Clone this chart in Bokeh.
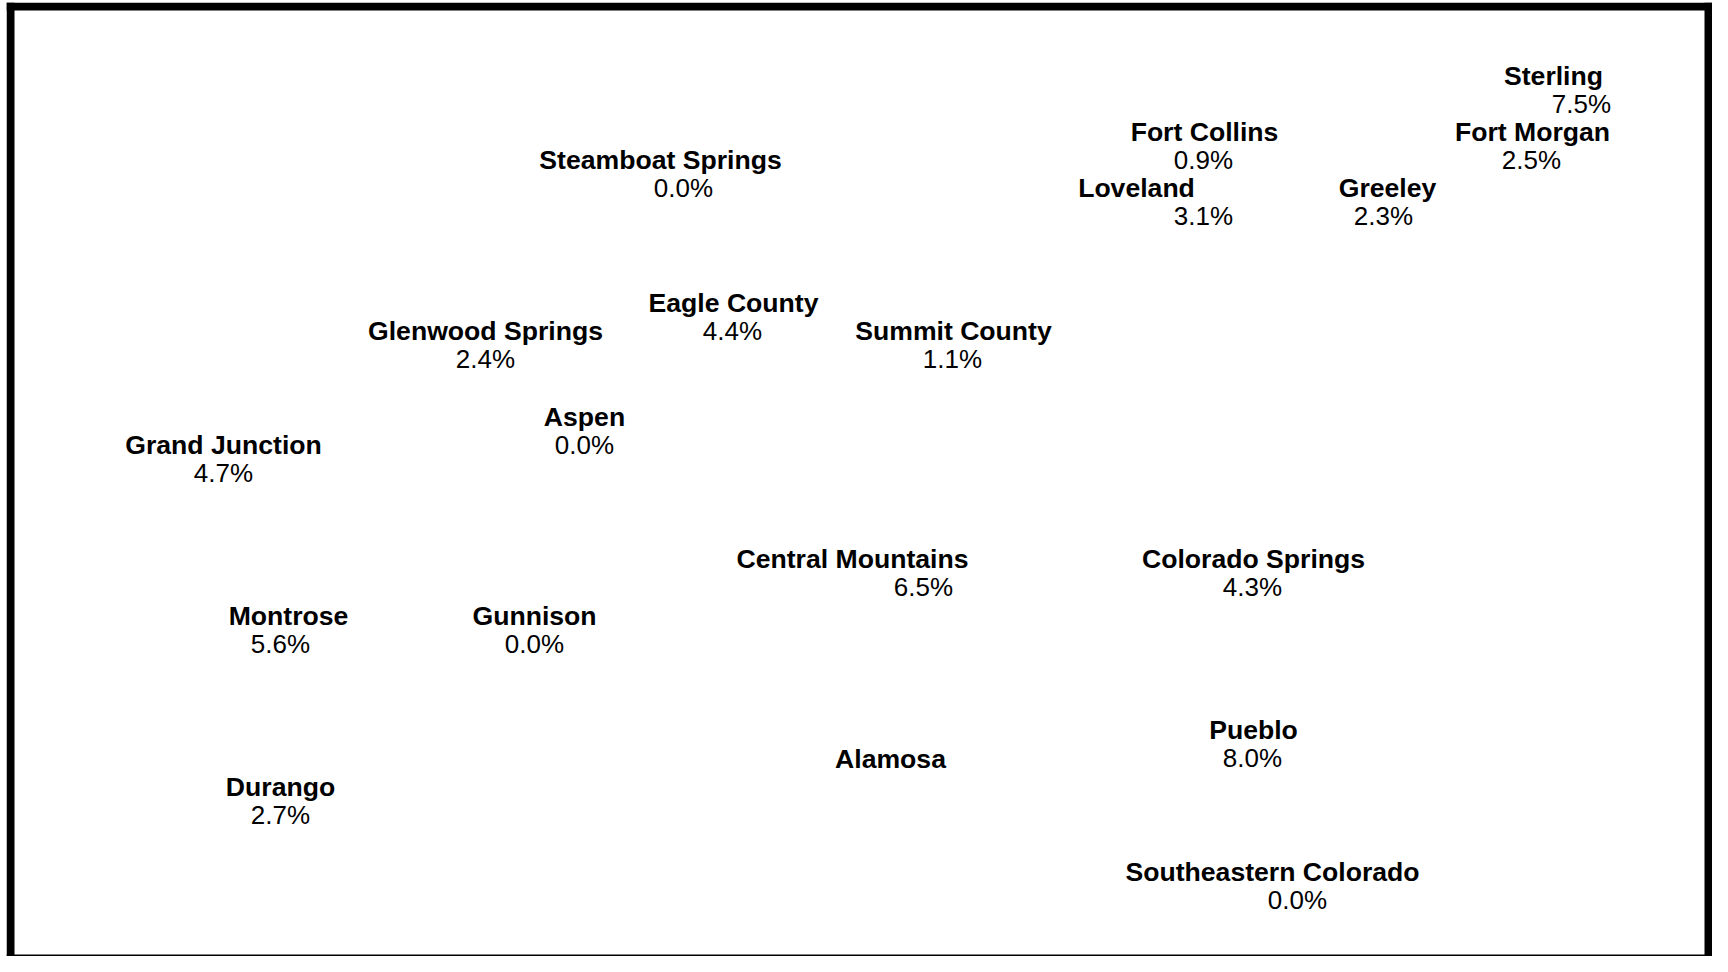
from bokeh.plotting import figure
from bokeh.models import Range1d, ColumnDataSource, BoxAnnotation
from bokeh.core.properties import value
from bokeh.embed import file_html
from bokeh.resources import INLINE

# Region names and their label positions (layout coordinates, x right, y down)
regions = ["Sterling", "Fort Collins", "Fort Morgan", "Steamboat Springs", "Loveland",
           "Greeley", "Eagle County", "Glenwood Springs", "Summit County", "Aspen",
           "Grand Junction", "Central Mountains", "Colorado Springs", "Montrose",
           "Gunnison", "Pueblo", "Alamosa", "Durango", "Southeastern Colorado"]
name_x = [1553, 1204, 1532, 660, 1136, 1387, 733, 485, 953, 584,
          223, 852, 1253, 288, 534, 1253, 890, 280, 1272]
name_y = [75, 131, 131, 159, 187, 187, 302, 330, 330, 416,
          444, 558, 558, 615, 615, 729, 758, 786, 871]

# Percent values (Alamosa has none) and their label positions
value_regions = ["Sterling", "Fort Collins", "Fort Morgan", "Steamboat Springs", "Loveland",
                 "Greeley", "Eagle County", "Glenwood Springs", "Summit County", "Aspen",
                 "Grand Junction", "Central Mountains", "Colorado Springs", "Montrose",
                 "Gunnison", "Pueblo", "Durango", "Southeastern Colorado"]
pct = [7.5, 0.9, 2.5, 0.0, 3.1, 2.3, 4.4, 2.4, 1.1, 0.0,
       4.7, 6.5, 4.3, 5.6, 0.0, 8.0, 2.7, 0.0]
value_x = [1581, 1203, 1531, 683, 1203, 1383, 732, 485, 952, 584,
           223, 923, 1252, 280, 534, 1252, 280, 1297]
value_y = [103, 159, 159, 187, 215, 215, 330, 358, 358, 444,
           472, 586, 586, 643, 643, 757, 814, 899]

W, H = 1712, 956
fl, ft = 6, 2

p = figure(width=W, height=H, output_backend="svg", toolbar_location=None,
           x_range=Range1d(fl, W), y_range=Range1d(H, ft),
           min_border_left=fl, min_border_top=ft, min_border_right=0, min_border_bottom=0)
p.axis.visible = False
p.grid.visible = False
p.outline_line_color = None
p.border_fill_color = "white"
p.background_fill_color = "white"

# thick black frame bands
for kw in (dict(right=14), dict(left=1704), dict(bottom=10), dict(top=954)):
    p.add_layout(BoxAnnotation(fill_color="black", fill_alpha=1.0, line_color=None, **kw))

names_src = ColumnDataSource(dict(x=name_x, y=name_y, t=regions))
vals_src = ColumnDataSource(dict(x=value_x, y=value_y, t=[f"{v:.1f}%" for v in pct]))

p.text(x="x", y="y", text="t", source=names_src, text_font=value("Liberation Sans"),
       text_font_style="bold", text_font_size="26.6px", text_align="center",
       text_baseline="middle", text_color="black")
p.text(x="x", y="y", text="t", source=vals_src, text_font=value("Liberation Sans"),
       text_font_style="normal", text_font_size="26px", text_align="center",
       text_baseline="middle", text_color="black")

open("out.html", "w").write(file_html(p, INLINE))
